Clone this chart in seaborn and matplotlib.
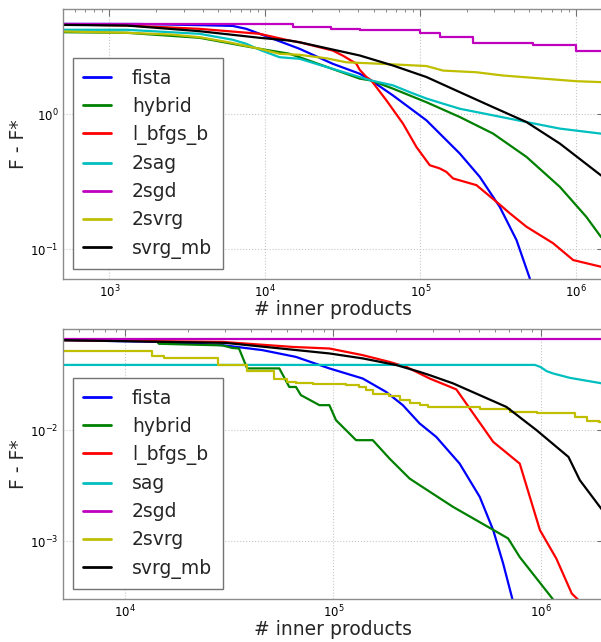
import numpy as np
import pandas as pd
import matplotlib
matplotlib.use("Agg")
import matplotlib.pyplot as plt
import seaborn as sns

# ---------------- data: top panel ----------------
top_labels = ["fista", "hybrid", "l_bfgs_b", "2sag", "2sgd", "2svrg", "svrg_mb"]

top_fista_x = [500, 1560, 3800, 6200, 7590, 9250, 16700, 27300, 40700, 48400, 66700,
               109500, 179600, 241400, 324600, 416000, 506000, 540000]
top_fista_y = [4.68, 4.67, 4.58, 4.52, 4.30, 3.95, 3.06, 2.37, 2.00, 1.78, 1.38,
               0.903, 0.512, 0.344, 0.206, 0.117, 0.061, 0.045]

top_hybrid_x = [500, 1290, 3800, 9250, 14400, 16700, 40700, 48400, 66700, 109500,
                179600, 294000, 482000, 791000, 1170000, 1450000, 1520000]
top_hybrid_y = [4.06, 4.02, 3.69, 3.06, 2.81, 2.65, 1.84, 1.78, 1.55, 1.23,
                0.955, 0.720, 0.484, 0.290, 0.174, 0.124, 0.118]

top_lbfgs_x = [500, 1290, 3800, 9250, 14400, 16700, 27300, 31600, 38800, 40700, 45000,
               48400, 60500, 77400, 94400, 115000, 133000, 147000, 162500, 229600,
               309000, 376600, 482000, 715000, 963000, 1450000, 1520000]
top_lbfgs_y = [4.63, 4.55, 4.30, 3.95, 3.52, 3.42, 2.97, 2.73, 2.37, 2.14, 1.89,
               1.78, 1.27, 0.853, 0.573, 0.420, 0.398, 0.375, 0.335, 0.299,
               0.225, 0.185, 0.147, 0.111, 0.0833, 0.0744, 0.0744]

top_2sag_x = [500, 1290, 3800, 6200, 7590, 9250, 12400, 16700, 40700, 48400, 66700,
              85500, 109500, 140000, 179600, 294000, 482000, 791000, 1450000, 1520000]
top_2sag_y = [4.23, 4.23, 3.95, 3.57, 3.33, 3.01, 2.65, 2.58, 1.89, 1.78, 1.64,
              1.46, 1.31, 1.20, 1.10, 0.983, 0.877, 0.784, 0.720, 0.715]

top_2sgd_x = [500, 15100, 26800, 40700, 99000, 133000, 218500, 532000, 1010000, 1520000]
top_2sgd_y = [4.68, 4.47, 4.30, 4.18, 4.02, 3.77, 3.39, 3.27, 2.94, 2.94]

top_2svrg_x = [500, 1290, 2500, 3800, 6000, 9250, 12400, 16700, 25000, 33400, 54900,
               109500, 140000, 229600, 339500, 614000, 1010000, 1520000]
top_2svrg_y = [4.11, 4.02, 3.90, 3.73, 3.40, 3.06, 2.81, 2.76, 2.60, 2.43, 2.37,
               2.28, 2.11, 2.05, 1.94, 1.84, 1.76, 1.73]

top_svrg_x = [500, 1290, 3800, 9250, 14400, 16700, 40700, 66700, 109500, 179600,
              294000, 482000, 791000, 1450000, 1520000]
top_svrg_y = [4.60, 4.55, 4.13, 3.69, 3.52, 3.42, 2.73, 2.30, 1.89, 1.46,
              1.13, 0.877, 0.607, 0.354, 0.342]

# ---------------- data: bottom panel ----------------
bot_labels = ["fista", "hybrid", "l_bfgs_b", "sag", "2sgd", "2svrg", "svrg_mb"]

bot_fista_x = [5000, 14500, 29300, 45600, 66100, 95700, 138400, 179400, 215800, 259800,
               312300, 404600, 505400, 586600, 655000, 726700, 760000]
bot_fista_y = [0.0647, 0.0624, 0.0583, 0.0526, 0.0457, 0.0360, 0.0292, 0.0221, 0.0168,
               0.0115, 0.0087, 0.0050, 0.00251, 0.00126, 0.00063, 0.000298, 0.00022]

bot_hybrid_x = [5000, 14000, 14500, 29300, 32700, 35200, 38500, 55000, 61400, 66100,
                69800, 85700, 95700, 103000, 115100, 128600, 154700, 186100, 232500,
                259800, 376000, 692000, 787000, 1140000, 1200000]
bot_hybrid_y = [0.0647, 0.0647, 0.0600, 0.0580, 0.0550, 0.0544, 0.0360, 0.0360, 0.0245,
                0.0245, 0.0207, 0.0168, 0.0168, 0.0123, 0.0100, 0.00813, 0.00813,
                0.00556, 0.00367, 0.0032, 0.00204, 0.00106, 0.00072, 0.000298, 0.00025]

bot_lbfgs_x = [5000, 29300, 63700, 95700, 138400, 186100, 224000, 259800, 290400,
               390000, 586600, 787000, 984000, 1180000, 1400000, 1500000, 1560000]
bot_lbfgs_y = [0.0647, 0.0624, 0.0562, 0.0544, 0.0474, 0.0412, 0.0372, 0.0324, 0.0292,
               0.0233, 0.00785, 0.0050, 0.00126, 0.000698, 0.000338, 0.000298, 0.00028]

bot_sag_x = [5000, 931000, 990000, 1060000, 1140000, 1370000, 2000000]
bot_sag_y = [0.0387, 0.0387, 0.0371, 0.0340, 0.0324, 0.0296, 0.0262]

bot_2sgd_x = [5000, 2000000]
bot_2sgd_y = [0.0656, 0.0656]

bot_2svrg_x = [5000, 13460, 15350, 28000, 38500, 52000, 60000, 66100, 79500, 115000,
               133400, 143700, 154700, 186100, 208000, 232500, 259800, 284700, 505400,
               705300, 948000, 1450000, 1650000, 1900000, 2000000]
bot_2svrg_y = [0.0512, 0.0470, 0.0443, 0.0386, 0.0340, 0.0292, 0.0272, 0.0266, 0.0260,
               0.0254, 0.0243, 0.0229, 0.0210, 0.0203, 0.0186, 0.0176, 0.0168, 0.0162,
               0.0154, 0.0146, 0.0143, 0.0131, 0.0121, 0.0119, 0.0119]

bot_svrg_x = [5000, 30400, 95700, 138400, 200600, 259800, 290400, 376000, 679000,
              948000, 1350000, 1530000, 2000000]
bot_svrg_y = [0.0647, 0.0611, 0.0491, 0.0443, 0.0386, 0.0335, 0.0313, 0.0264, 0.0162,
              0.0100, 0.00574, 0.00355, 0.00182]

colors = ["#0000ff", "#008000", "#ff0000", "#00bfbf", "#bf00bf", "#bfbf00", "#000000"]

top_series = [(top_fista_x, top_fista_y, None), (top_hybrid_x, top_hybrid_y, None),
              (top_lbfgs_x, top_lbfgs_y, None), (top_2sag_x, top_2sag_y, None),
              (top_2sgd_x, top_2sgd_y, "steps-post"), (top_2svrg_x, top_2svrg_y, None),
              (top_svrg_x, top_svrg_y, None)]
bot_series = [(bot_fista_x, bot_fista_y, None), (bot_hybrid_x, bot_hybrid_y, None),
              (bot_lbfgs_x, bot_lbfgs_y, None), (bot_sag_x, bot_sag_y, None),
              (bot_2sgd_x, bot_2sgd_y, None), (bot_2svrg_x, bot_2svrg_y, "steps-post"),
              (bot_svrg_x, bot_svrg_y, None)]

sns.set_theme(style="white")
plt.rcParams["font.family"] = ["DejaVu Sans"]
plt.rcParams["mathtext.fontset"] = "dejavusans"

fig = plt.figure(figsize=(6.01, 6.42), dpi=100)
W, H = 601.0, 642.0
left, right = 62.7, 604.0
ax_top = fig.add_axes([left / W, 1 - 279.3 / H, (right - left) / W, 270.0 / H])
ax_bot = fig.add_axes([left / W, 1 - 599.3 / H, (right - left) / W, 270.0 / H])


def draw(ax, series, labels, xlim, ylim):
    for (xs, ys, ds), lab, c in zip(series, labels, colors):
        df = pd.DataFrame({"x": xs, "y": ys})
        kw = {}
        if ds:
            kw["drawstyle"] = ds
        sns.lineplot(data=df, x="x", y="y", ax=ax, color=c, label=lab,
                     estimator=None, sort=False, linewidth=1.6, **kw)
    ax.set_xscale("log")
    ax.set_yscale("log")
    ax.set_xlim(*xlim)
    ax.set_ylim(*ylim)
    ax.grid(True, which="major", color="0.78", linestyle=":", linewidth=0.8)
    for s in ax.spines.values():
        s.set_color("0.55")
        s.set_linewidth(1.0)
    ax.tick_params(which="both", direction="in", top=True, right=True,
                   colors="0.45", labelcolor="black", labelsize=8.5)
    ax.tick_params(which="major", length=5, width=0.8, pad=3)
    ax.tick_params(which="minor", length=2.5, width=0.6)
    ax.set_xlabel("# inner products", fontsize=13.5)
    ax.set_ylabel("F - F*", fontsize=13.5)
    ax.xaxis.set_label_coords(0.5, -0.078)
    ax.yaxis.set_label_coords(-0.064, 0.5)
    leg = ax.legend(loc="lower left", fontsize=13.5, frameon=True, fancybox=False,
                    framealpha=1, edgecolor="0.45", handlelength=1.5,
                    handletextpad=1.1, labelspacing=0.49, borderpad=0.55,
                    borderaxespad=0.55)
    leg.get_frame().set_linewidth(1.0)
    for h in leg.get_lines():
        h.set_linewidth(2.0)


draw(ax_top, top_series, top_labels, (500, 1.52e6), (0.06, 6.0))
draw(ax_bot, bot_series, bot_labels, (5000, 2.0e6), (3.0e-4, 0.081))

fig.savefig("out.png", dpi=100)
